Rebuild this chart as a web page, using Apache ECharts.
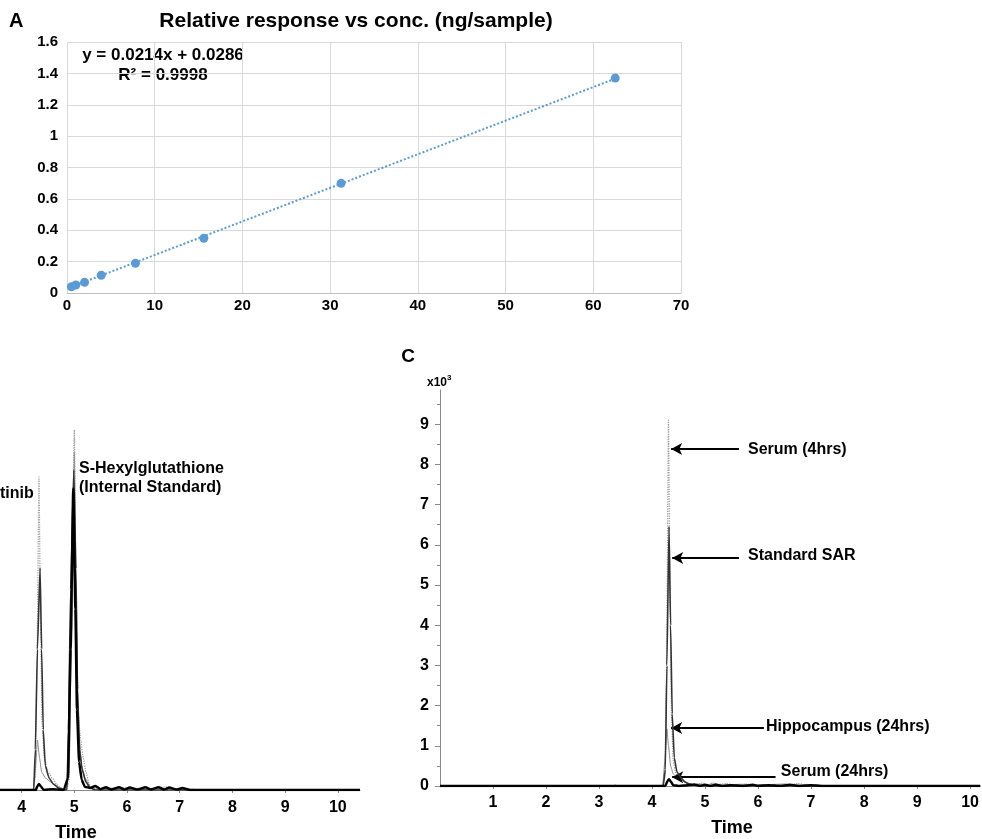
<!DOCTYPE html>
<html><head><meta charset="utf-8">
<script src="https://cdn.jsdelivr.net/npm/echarts@6/dist/echarts.min.js"></script>
<style>html,body{margin:0;padding:0;background:#fff}#c{width:982px;height:839px}</style>
</head><body><div id="c"></div>
<script>
const FONT = "'Liberation Sans', Arial, Helvetica, sans-serif";

// ---------- Panel A : calibration ----------
const concX = [0.5, 1, 2, 3.9, 7.8, 15.6, 31.25, 62.5];
const responseY = [0.040, 0.051, 0.068, 0.113, 0.189, 0.349, 0.699, 1.37];
const trendX = [0.5, 62.5];
const trendY = [0.039, 1.366];

// ---------- Panel B : chromatogram traces (x10^3) ----------
const bDotted = [[0,0],[4.22,0],[4.26,0.3],[4.29,3.0],[4.33,7.79],[4.36,4.0],[4.39,1.6],[4.43,0.8],[4.5,0.45],[4.58,0.3],[4.66,0.15],[4.74,0.05],[4.85,0],[4.9,0.2],[4.94,3.5],[5.0,8.96],[5.04,4.5],[5.08,1.8],[5.12,1.25],[5.17,0.8],[5.22,0.45],[5.28,0.15],[5.35,0.03],[5.5,0.05],[5.7,0.02],[6.0,0.05],[6.4,0.03],[6.75,0.08],[6.9,0.02],[7.2,0.02],[7.4,0],[10.42,0]];
const bSolid = [[0,0],[4.23,0],[4.26,1.0],[4.3,3.5],[4.35,5.52],[4.38,3.5],[4.41,1.5],[4.45,0.6],[4.52,0.3],[4.6,0.15],[4.7,0.05],[4.8,0],[4.86,0],[4.89,1.5],[4.93,5.0],[4.99,7.96],[5.03,5.5],[5.06,2.5],[5.1,1.0],[5.15,0.5],[5.22,0.2],[5.3,0.05],[5.4,0],[10.42,0]];
const bGray = [[0,0],[4.22,0],[4.26,0.5],[4.3,1.24],[4.34,0.8],[4.38,0.45],[4.45,0.3],[4.55,0.2],[4.65,0.12],[4.75,0.05],[4.85,0],[4.9,0.5],[4.95,4.0],[5.0,8.4],[5.04,4.0],[5.08,1.5],[5.14,0.6],[5.2,0.3],[5.3,0.08],[5.4,0.02],[5.6,0.04],[6.1,0.05],[6.3,0.02],[6.6,0.04],[7.0,0.03],[7.2,0],[10.42,0]];
const bThick = [[0,0],[4.27,0],[4.3,0.1],[4.33,0.15],[4.37,0.08],[4.42,0],[4.6,0.02],[4.8,0],[4.88,0.3],[4.93,3.5],[4.98,7.5],[5.02,4.5],[5.05,2.0],[5.09,0.7],[5.14,0.25],[5.2,0.08],[5.3,0.05],[5.4,0.1],[5.5,0.02],[5.6,0.07],[5.7,0.01],[5.85,0.07],[5.95,0.01],[6.05,0.06],[6.2,0.01],[6.35,0.07],[6.45,0.01],[6.6,0.07],[6.7,0.01],[6.8,0.06],[6.95,0.01],[7.05,0.05],[7.2,0],[10.42,0]];

// ---------- Panel C : chromatogram traces (x10^3) ----------
const cSerum4h = [[0,0],[4.2,0],[4.24,0.2],[4.27,2.5],[4.31,9.1],[4.34,4.5],[4.37,1.6],[4.4,0.6],[4.45,0.3],[4.52,0.2],[4.6,0.12],[4.7,0.06],[4.8,0.03],[4.95,0.07],[5.05,0.03],[5.15,0.08],[5.25,0.04],[5.4,0.06],[5.55,0.03],[5.75,0.05],[6.0,0.02],[6.3,0.04],[6.6,0.03],[6.75,0.07],[6.9,0.02],[7.1,0.03],[7.3,0],[10.19,0]];
const cStandard = [[0,0],[4.21,0],[4.25,0.4],[4.28,3.0],[4.32,6.45],[4.35,4.0],[4.38,1.8],[4.42,0.7],[4.47,0.35],[4.55,0.2],[4.62,0.1],[4.7,0.05],[4.8,0.02],[5.0,0],[10.19,0]];
const cHippo24h = [[0,0],[3.28,0],[3.3,0.03],[3.33,0],[4.2,0],[4.24,0.6],[4.28,1.42],[4.31,1.0],[4.35,0.5],[4.4,0.3],[4.48,0.2],[4.56,0.15],[4.65,0.07],[4.75,0.03],[4.9,0.05],[5.0,0.02],[5.2,0.06],[5.3,0.02],[5.6,0.04],[6.2,0.03],[6.5,0.05],[6.7,0.02],[7.0,0.03],[7.2,0],[10.19,0]];
const cSerum24h = [[0,0],[4.25,0],[4.29,0.12],[4.32,0.17],[4.36,0.1],[4.4,0.02],[4.5,0],[4.6,0.01],[4.8,0.04],[4.9,0],[5.0,0.03],[5.1,0],[5.2,0.03],[5.35,0],[5.5,0.02],[5.7,0],[5.9,0.03],[6.0,0],[6.2,0.02],[6.4,0],[6.6,0.03],[6.8,0],[7.0,0.02],[7.2,0],[10.19,0]];

// annotation arrows and their labels (data coords)
const arrowNames = ['Serum (4hrs)', 'Standard SAR', 'Hippocampus (24hrs)', 'Serum (24hrs)'];
const arrowY = [8.38, 5.67, 1.44, 0.22];
const arrowTip = [4.36, 4.38, 4.36, 4.38];
const arrowTail = [5.64, 5.64, 6.11, 6.33];
const arrowLabelX = [5.81, 5.81, 6.15, 6.43];
const arrowLabelY = [8.38, 5.72, 1.47, 0.37];

// tick labels
const bXLabels = [4, 5, 6, 7, 8, 9, 10];
const cXLabels = [1, 2, 3, 4, 5, 6, 7, 8, 9, 10];
const cYLabels = [0, 1, 2, 3, 4, 5, 6, 7, 8, 9];
const cYMinor = [0.5, 1.5, 2.5, 3.5, 4.5, 5.5, 6.5, 7.5, 8.5, 9.5];

const pairs = (xs, ys) => xs.map((x, i) => [x, ys[i]]);
const lbl = (size) => ({ color: '#000', fontWeight: 'bold', fontSize: size, fontFamily: FONT });

const chart = echarts.init(document.getElementById('c'), null, { renderer: 'canvas' });

const chromLine = (data, xi, yi, color, width, type, z) => ({
  type: 'line', xAxisIndex: xi, yAxisIndex: yi, data: data, showSymbol: false,
  smooth: 0.15, smoothMonotone: 'x', z: z,
  lineStyle: { color: color, width: width, type: type }
});

const option = {
  animation: false,
  backgroundColor: '#fff',
  grid: [
    { left: 67, top: 42, width: 614, height: 251 },
    { left: 0, top: 394, width: 360, height: 396 },
    { left: 440, top: 390, width: 542, height: 396 }
  ],
  xAxis: [
    { gridIndex: 0, type: 'value', min: 0, max: 70, interval: 10,
      axisLine: { show: true, lineStyle: { color: '#bfbfbf', width: 1 } },
      axisTick: { show: false },
      axisLabel: Object.assign({ margin: 5 }, lbl(15)),
      splitLine: { show: true, lineStyle: { color: '#d9d9d9', width: 1 } } },
    { gridIndex: 1, type: 'value', min: 3.59, max: 10.42, offset: 5,
      axisLine: { show: true, lineStyle: { color: '#888', width: 1 } },
      axisTick: { show: true, length: 3, customValues: bXLabels, lineStyle: { color: '#888' } },
      axisLabel: Object.assign({ margin: 5, customValues: bXLabels }, lbl(16)),
      splitLine: { show: false } },
    { gridIndex: 2, type: 'value', min: 0, max: 10.19, offset: 3,
      axisLine: { show: true, lineStyle: { color: '#888', width: 1 } },
      axisTick: { show: true, length: 3, customValues: cXLabels, lineStyle: { color: '#888' } },
      axisLabel: Object.assign({ margin: 6, customValues: cXLabels }, lbl(16)),
      splitLine: { show: false } }
  ],
  yAxis: [
    { gridIndex: 0, type: 'value', min: 0, max: 1.6, interval: 0.2,
      axisLine: { show: false }, axisTick: { show: false },
      axisLabel: Object.assign({ margin: 9 }, lbl(15)),
      splitLine: { show: true, lineStyle: { color: '#d9d9d9', width: 1 } } },
    { gridIndex: 1, type: 'value', min: 0, max: 9.85, show: false },
    { gridIndex: 2, type: 'value', min: 0, max: 9.85, position: 'left',
      axisLine: { show: true, lineStyle: { color: '#888', width: 1 } },
      axisTick: { show: true, length: 5, customValues: cYLabels, lineStyle: { color: '#888' } },
      axisLabel: Object.assign({ margin: 11, customValues: cYLabels }, lbl(16)),
      splitLine: { show: false } },
    { gridIndex: 2, type: 'value', min: 0, max: 9.85, position: 'left',
      axisLine: { show: false },
      axisTick: { show: true, length: 3, customValues: cYMinor, lineStyle: { color: '#888' } },
      axisLabel: { show: false },
      splitLine: { show: false } }
  ],
  series: [
    { type: 'line', xAxisIndex: 0, yAxisIndex: 0, data: pairs(trendX, trendY), showSymbol: false, z: 2,
      lineStyle: { color: '#5b9bd5', width: 2, type: [2, 2] } },
    { type: 'scatter', xAxisIndex: 0, yAxisIndex: 0, data: pairs(concX, responseY), symbolSize: 9, z: 3,
      itemStyle: { color: '#5b9bd5', opacity: 1 } },

    chromLine(bGray, 1, 1, '#8a8a8a', 1, 'solid', 3),
    chromLine(bDotted, 1, 1, '#9a9a9a', 1.2, 'dotted', 4),
    chromLine(bSolid, 1, 1, '#333', 1.6, 'solid', 5),
    chromLine(bThick, 1, 1, '#000', 2.5, 'solid', 6),

    chromLine(cHippo24h, 2, 2, '#8a8a8a', 1, 'solid', 3),
    chromLine(cSerum4h, 2, 2, '#9a9a9a', 1.2, 'dotted', 4),
    chromLine(cStandard, 2, 2, '#333', 1.6, 'solid', 5),
    Object.assign(chromLine(cSerum24h, 2, 2, '#000', 2.5, 'solid', 6), {
      markLine: {
        silent: true, animation: false,
        symbol: ['none', 'arrow'], symbolSize: [9, 11],
        lineStyle: { color: '#000', width: 2, type: 'solid' },
        label: { show: false },
        emphasis: { disabled: true },
        data: arrowNames.map((n, i) => [
          { coord: [arrowTail[i], arrowY[i]] },
          { coord: [arrowTip[i], arrowY[i]] }
        ])
      }
    }),
    { type: 'scatter', xAxisIndex: 2, yAxisIndex: 2, symbolSize: 0, silent: true, z: 7,
      itemStyle: { color: '#000', opacity: 1 },
      data: arrowNames.map((n, i) => ({ name: n, value: [arrowLabelX[i], arrowLabelY[i]] })),
      label: Object.assign({ show: true, position: 'right', distance: 0, formatter: '{b}', opacity: 1, textBorderWidth: 0 }, lbl(16)) }
  ],
  graphic: [
    { type: 'text', x: 9, y: 21, style: { text: 'A', font: 'bold 20px ' + FONT, fill: '#000', verticalAlign: 'middle' } },
    { type: 'text', x: 356, y: 21, style: { text: 'Relative response vs conc. (ng/sample)', font: 'bold 21px ' + FONT, fill: '#000', align: 'center', verticalAlign: 'middle' } },
    { type: 'text', x: 163, y: 55, style: { text: 'y = 0.0214x + 0.0286', font: 'bold 17px ' + FONT, fill: '#000', align: 'center', verticalAlign: 'middle' } },
    { type: 'text', x: 163, y: 75, style: { text: 'R² = 0.9998', font: 'bold 17px ' + FONT, fill: '#000', align: 'center', verticalAlign: 'middle' } },

    { type: 'text', x: 0, y: 494, style: { text: 'tinib', font: 'bold 16px ' + FONT, fill: '#000', verticalAlign: 'middle' } },
    { type: 'text', x: 79, y: 469, style: { text: 'S-Hexylglutathione', font: 'bold 16px ' + FONT, fill: '#000', verticalAlign: 'middle' } },
    { type: 'text', x: 79, y: 488, style: { text: '(Internal Standard)', font: 'bold 16px ' + FONT, fill: '#000', verticalAlign: 'middle' } },
    { type: 'text', x: 76, y: 833, style: { text: 'Time', font: 'bold 18px ' + FONT, fill: '#000', align: 'center', verticalAlign: 'middle' } },

    { type: 'text', x: 408, y: 357, style: { text: 'C', font: 'bold 19px ' + FONT, fill: '#000', align: 'center', verticalAlign: 'middle' } },
    { type: 'text', x: 427, y: 383, style: { text: 'x10', font: 'bold 12px ' + FONT, fill: '#000', verticalAlign: 'middle' } },
    { type: 'text', x: 447, y: 378, style: { text: '3', font: 'bold 8px ' + FONT, fill: '#000', verticalAlign: 'middle' } },
    { type: 'text', x: 732, y: 828, style: { text: 'Time', font: 'bold 18px ' + FONT, fill: '#000', align: 'center', verticalAlign: 'middle' } }
  ]
};
chart.setOption(option);
</script></body></html>
